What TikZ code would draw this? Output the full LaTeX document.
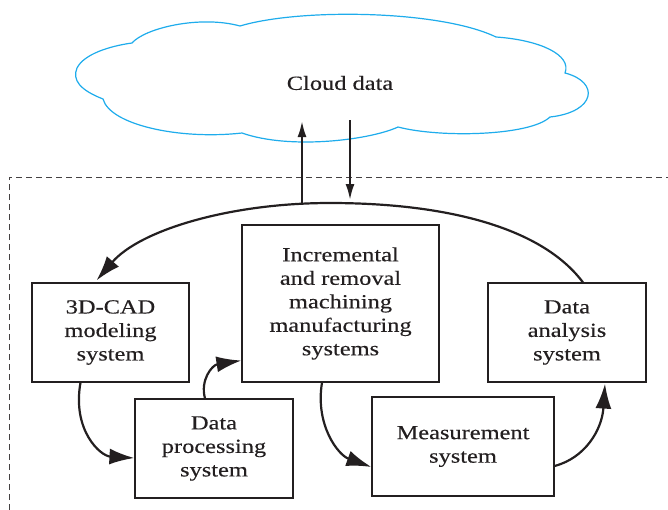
\documentclass[tikz,border=0pt]{standalone}
\usepackage{fontspec}
\setmainfont[FakeStretch=1.22,FakeBold=0.3]{Liberation Serif}
\usetikzlibrary{arrows.meta}
\definecolor{ink}{RGB}{35,31,32}
\definecolor{cloudblue}{RGB}{30,172,236}
\tikzset{
  box/.style={draw=ink, line width=1.1pt, rectangle, align=center, text=ink,
    font=\fontsize{20}{23.5}\selectfont, inner sep=0pt},
  flow/.style={draw=ink, line width=2.2pt, -{Latex[length=25pt,width=16pt]}},
  updown/.style={draw=ink, line width=2.2pt, -{Latex[length=16pt,width=9pt]}},
}
\begin{document}
\begin{tikzpicture}[x=1pt,y=-1pt]
\useasboundingbox (0,0) rectangle (668,509);
% dashed frame
\draw[ink!85, line width=1pt, dash pattern=on 6pt off 4pt] (9,520) -- (9,177) -- (680,177);
% cloud
\draw[cloudblue, line width=1.2pt, fill=white]
  (103,99) .. controls (80,90) and (72,80) .. (77,68)
  .. controls (84,54) and (110,46) .. (132,43)
  .. controls (145,28) and (200,15) .. (240,26)
  .. controls (300,8) and (440,10) .. (496,37)
  .. controls (540,40) and (572,55) .. (565,73)
  .. controls (600,82) and (596,112) .. (550,117)
  .. controls (530,136) and (440,138) .. (398,127)
  .. controls (370,140) and (290,150) .. (242,133)
  .. controls (180,140) and (110,125) .. (103,99) -- cycle;
\node[text=ink, font=\fontsize{20}{23.5}\selectfont] (cloud) at (340,83) {Cloud data};
% boxes
\node[box, minimum width=157pt, minimum height=99pt] (cad) at (110.5,332.5) {3D-CAD\\modeling\\system};
\node[box, minimum width=158pt, minimum height=99pt] (dp) at (214,448.5) {Data\\processing\\system};
\node[box, minimum width=197pt, minimum height=157pt] (inc) at (340.5,303.5) {Incremental\\and removal\\machining\\manufacturing\\systems};
\node[box, minimum width=182pt, minimum height=99pt] (meas) at (463,446.5) {Measurement\\system};
\node[box, minimum width=158pt, minimum height=99pt] (da) at (567,332.5) {Data\\analysis\\system};
% coordinates for cloud links
\coordinate (upS) at (302,203);
\coordinate (upE) at (302,121);
\coordinate (dnS) at (350,120);
\coordinate (dnE) at (350,200);
\draw[updown] (upS) -- (upE);
\draw[updown] (dnS) -- (dnE);
% big feedback curve
\draw[flow] ([xshift=16pt]da.north) .. controls (540,225) and (440,203) .. (330,203)
  .. controls (230,203) and (140,230) .. ([xshift=-14pt,yshift=2pt]cad.north);
% small flows
\draw[flow] ([xshift=-30pt]cad.south) .. controls (72,430) and (100,456) .. ([yshift=-9.5pt]dp.west);
\draw[flow] ([xshift=-9pt]dp.north) .. controls (200,380) and (212,365) .. ([yshift=-57pt]inc.west);
\draw[flow] ([xshift=-18.5pt]inc.south) .. controls (315,425) and (338,455) .. ([yshift=-20.5pt]meas.west);
\draw[flow] ([yshift=-19.5pt]meas.east) .. controls (585,458) and (602,430) .. ([xshift=38pt,yshift=-1pt]da.south);
\end{tikzpicture}
\end{document}
